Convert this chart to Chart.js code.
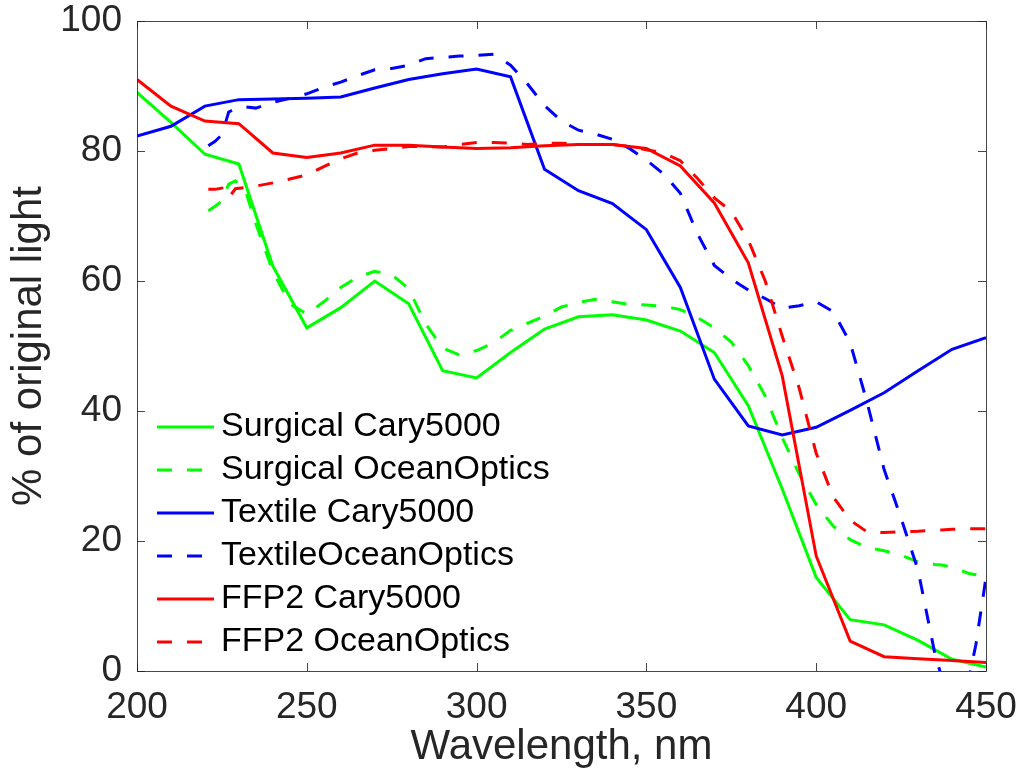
<!DOCTYPE html>
<html>
<head>
<meta charset="utf-8">
<title>Mask transmission</title>
<script src="https://cdn.jsdelivr.net/npm/chart.js@4/dist/chart.umd.min.js"></script>
<style>
  body { margin: 0; background: #fff; }
  canvas { display: block; }
</style>
</head>
<body>
<canvas id="chart" width="1025" height="783"></canvas>
<script>
/* global Chart */

// Cary5000 spectra, sampled every 10 nm
var caryWavelengths = [200, 210, 220, 230, 240, 250, 260, 270, 280, 290, 300, 310, 320, 330, 340, 350, 360, 370, 380, 390, 400, 410, 420, 430, 440, 450]
var surgicalCary = [89.0, 84.4, 79.5, 78.0, 62.3, 52.8, 55.9, 60.0, 56.5, 46.2, 45.1, 49.0, 52.6, 54.5, 54.8, 54.0, 52.3, 49.0, 40.8, 28.0, 14.4, 7.9, 7.1, 4.7, 1.8, 0.6]
var textileCary = [82.3, 83.8, 86.9, 87.9, 88.0, 88.1, 88.3, 89.7, 91.0, 91.9, 92.6, 91.4, 77.2, 73.9, 71.9, 67.9, 59.0, 44.9, 37.7, 36.3, 37.5, 40.1, 42.8, 46.2, 49.5, 51.3]
var ffp2Cary = [91.0, 86.9, 84.6, 84.2, 79.7, 79.0, 79.7, 80.9, 80.9, 80.6, 80.4, 80.5, 80.8, 81.0, 81.0, 80.4, 77.7, 72.0, 62.8, 45.4, 17.7, 4.6, 2.2, 1.9, 1.6, 1.3]

// OceanOptics spectra (starts at 221 nm)
var oceanWavelengths = [221, 223, 225, 227, 229, 232, 235, 240, 245, 250, 255, 260, 265, 270, 275, 280, 285, 290, 295, 300, 305, 310, 315, 320, 325, 330, 335, 340, 345, 350, 355, 360, 365, 370, 375, 380, 385, 390, 395, 400, 405, 410, 415, 420, 425, 430, 435, 437, 440, 445, 447, 450]
var surgicalOcean = [70.8, 71.5, 72.3, 74.9, 75.4, 73.8, 68.8, 61.5, 56.5, 54.9, 56.8, 59.0, 60.6, 61.5, 61.0, 58.8, 53.4, 49.7, 48.6, 49.3, 50.5, 52.4, 53.5, 54.6, 56.0, 56.7, 57.2, 56.8, 56.4, 56.3, 56.1, 55.6, 54.4, 52.8, 50.6, 47.0, 42.3, 35.9, 30.3, 25.6, 22.3, 20.2, 19.0, 18.5, 17.8, 16.8, 16.4, 16.3, 16.0, 15.0, 14.8, 14.4]
var textileOcean = [80.8, 81.5, 82.5, 86.0, 86.5, 86.8, 86.6, 87.5, 88.1, 88.8, 89.8, 90.6, 91.6, 92.5, 92.7, 93.2, 94.2, 94.4, 94.6, 94.7, 94.9, 93.2, 90.3, 87.0, 84.6, 83.2, 82.6, 81.8, 80.4, 78.6, 76.5, 73.5, 67.3, 62.4, 60.3, 58.6, 57.3, 55.8, 56.2, 56.8, 55.3, 50.5, 41.3, 31.0, 23.5, 15.5, 2.5, -1.0, -1.0, -1.0, 4.0, 14.4]
var ffp2Ocean = [74.1, 74.1, 74.3, 72.8, 74.2, 74.4, 74.6, 75.1, 75.7, 76.3, 77.6, 78.8, 79.7, 80.1, 80.4, 80.7, 80.7, 80.6, 81.0, 81.3, 81.3, 81.2, 81.0, 81.2, 81.2, 81.0, 81.0, 81.0, 80.7, 80.2, 79.7, 78.5, 75.8, 72.8, 70.7, 66.3, 60.0, 51.5, 43.5, 33.5, 26.8, 23.2, 21.4, 21.3, 21.4, 21.5, 21.7, 21.7, 21.8, 21.9, 21.9, 21.9]

var xTicks = [200, 250, 300, 350, 400, 450]
var yTicks = [0, 20, 40, 60, 80, 100]

var FONT = "'Liberation Sans', Arial, Helvetica, sans-serif"
var INK = '#262626'
var DASH = [15, 15]

function pairs (xs, ys) {
  return xs.map((x, i) => ({ x: x, y: ys[i] }))
}

function series (label, xs, ys, color, dashed, order) {
  return {
    label: label,
    data: pairs(xs, ys),
    borderColor: color,
    backgroundColor: color,
    borderWidth: 3,
    borderDash: dashed ? DASH : [],
    pointRadius: 0,
    tension: 0,
    fill: false,
    order: order
  }
}

var datasets = [
  series('Surgical Cary5000', caryWavelengths, surgicalCary, '#00ff00', false, 6),
  series('Surgical OceanOptics', oceanWavelengths, surgicalOcean, '#00ff00', true, 5),
  series('Textile Cary5000', caryWavelengths, textileCary, '#0000ff', false, 4),
  series('TextileOceanOptics', oceanWavelengths, textileOcean, '#0000ff', true, 3),
  series('FFP2 Cary5000', caryWavelengths, ffp2Cary, '#ff0000', false, 2),
  series('FFP2 OceanOptics', oceanWavelengths, ffp2Ocean, '#ff0000', true, 1)
]

// box round the plot with inward ticks on all four sides
var axisBox = {
  id: 'axisBox',
  afterDatasetsDraw (chart) {
    var ctx = chart.ctx
    var a = chart.chartArea
    var len = 8
    ctx.save()
    ctx.strokeStyle = 'rgba(38,38,38,0.85)'
    ctx.lineWidth = 1
    ctx.beginPath()
    ctx.rect(Math.round(a.left) + 0.5, Math.round(a.top) + 0.5, Math.round(a.right - a.left), Math.round(a.bottom - a.top))
    chart.scales.x.ticks.forEach(t => {
      var px = Math.round(chart.scales.x.getPixelForValue(t.value)) + 0.5
      ctx.moveTo(px, a.bottom); ctx.lineTo(px, a.bottom - len)
      ctx.moveTo(px, a.top); ctx.lineTo(px, a.top + len)
    })
    chart.scales.y.ticks.forEach(t => {
      var py = Math.round(chart.scales.y.getPixelForValue(t.value)) + 0.5
      ctx.moveTo(a.left, py); ctx.lineTo(a.left + len, py)
      ctx.moveTo(a.right, py); ctx.lineTo(a.right - len, py)
    })
    ctx.stroke()
    ctx.restore()
  }
}

// legend inside the plot, lower left
var insideLegend = {
  id: 'insideLegend',
  afterDraw (chart) {
    var ctx = chart.ctx
    var x0 = 157
    var y0 = 427
    var rowH = 43
    ctx.save()
    ctx.font = '34px ' + FONT
    ctx.textBaseline = 'middle'
    ctx.fillStyle = '#000'
    chart.data.datasets.forEach((ds, i) => {
      var y = y0 + i * rowH
      ctx.strokeStyle = ds.borderColor
      ctx.lineWidth = 3
      ctx.setLineDash(ds.borderDash)
      ctx.beginPath()
      ctx.moveTo(x0, y)
      ctx.lineTo(x0 + 57, y)
      ctx.stroke()
      ctx.setLineDash([])
      ctx.fillText(ds.label, x0 + 64, y)
    })
    ctx.restore()
  }
}

// let the layout padding alone decide where the plot box sits
function noLabelOverflow (scale) {
  scale.paddingLeft = 0
  scale.paddingRight = 0
  scale.paddingTop = 0
  scale.paddingBottom = 0
}

var chart = new Chart(document.getElementById('chart'), {
  type: 'line',
  data: { datasets: datasets },
  plugins: [axisBox, insideLegend],
  options: {
    responsive: false,
    animation: false,
    devicePixelRatio: 1,
    layout: { padding: { left: 0, right: 39, top: 21, bottom: 0 } },
    plugins: { legend: { display: false }, tooltip: { enabled: false } },
    scales: {
      x: {
        type: 'linear',
        min: 200,
        max: 450,
        afterBuildTicks: (scale) => { scale.ticks = xTicks.map(v => ({ value: v })) },
        afterFit: (scale) => { scale.height = 112; noLabelOverflow(scale) },
        grid: { display: false, drawTicks: false },
        border: { display: false },
        ticks: { color: INK, padding: 18, font: { family: FONT, size: 37, lineHeight: 1 } },
        title: { display: true, text: 'Wavelength, nm', color: INK, padding: { top: 0, bottom: 10 }, font: { family: FONT, size: 42, lineHeight: 1.2 } }
      },
      y: {
        min: 0,
        max: 100,
        afterBuildTicks: (scale) => { scale.ticks = yTicks.map(v => ({ value: v })) },
        afterFit: (scale) => { scale.width = 137; noLabelOverflow(scale) },
        grid: { display: false, drawTicks: false },
        border: { display: false },
        ticks: { color: INK, padding: 15, font: { family: FONT, size: 37, lineHeight: 1 } },
        title: { display: true, text: '% of original light', color: INK, padding: { top: 4, bottom: 0 }, font: { family: FONT, size: 42, lineHeight: 1.2 } }
      }
    }
  }
})
</script>
</body>
</html>
